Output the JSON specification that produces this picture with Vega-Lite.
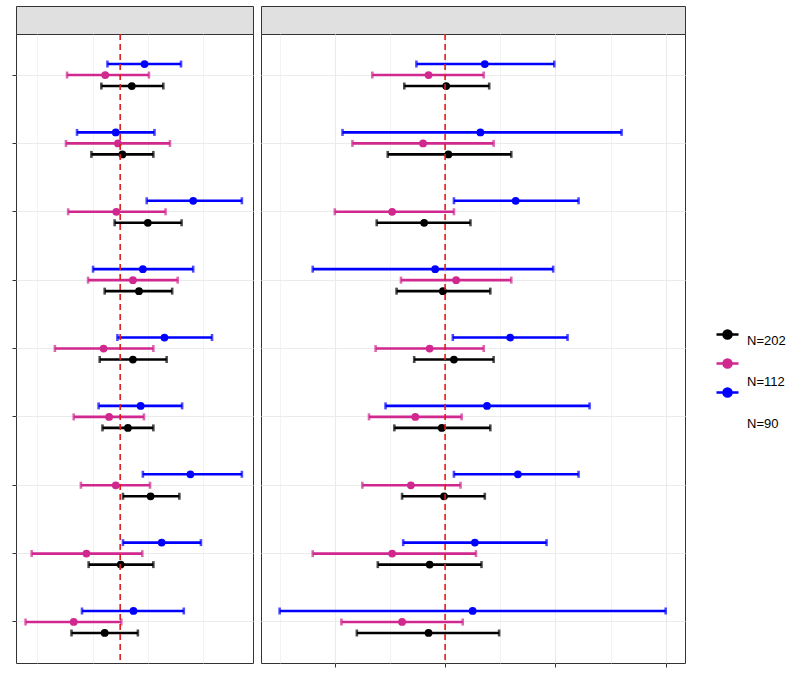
{
  "$schema": "https://vega.github.io/schema/vega-lite/v6.json",
  "padding": {"left": 11, "top": 5, "right": 5, "bottom": 5},
  "background": "white",
  "config": {
    "view": {"stroke": "#333333", "strokeWidth": 1},
    "font": "Liberation Sans"
  },
  "datasets": {
    "est": [
      {"p":"L","row":"r1","grp":"N=90","lo":-0.23,"est":0.44,"hi":1.10},
      {"p":"L","row":"r1","grp":"N=112","lo":-0.96,"est":-0.27,"hi":0.52},
      {"p":"L","row":"r1","grp":"N=202","lo":-0.34,"est":0.21,"hi":0.78},
      {"p":"L","row":"r2","grp":"N=90","lo":-0.78,"est":-0.08,"hi":0.62},
      {"p":"L","row":"r2","grp":"N=112","lo":-0.98,"est":-0.04,"hi":0.90},
      {"p":"L","row":"r2","grp":"N=202","lo":-0.52,"est":0.04,"hi":0.60},
      {"p":"L","row":"r3","grp":"N=90","lo":0.48,"est":1.32,"hi":2.20},
      {"p":"L","row":"r3","grp":"N=112","lo":-0.94,"est":-0.07,"hi":0.82},
      {"p":"L","row":"r3","grp":"N=202","lo":-0.10,"est":0.50,"hi":1.11},
      {"p":"L","row":"r4","grp":"N=90","lo":-0.49,"est":0.41,"hi":1.32},
      {"p":"L","row":"r4","grp":"N=112","lo":-0.58,"est":0.23,"hi":1.04},
      {"p":"L","row":"r4","grp":"N=202","lo":-0.28,"est":0.34,"hi":0.94},
      {"p":"L","row":"r5","grp":"N=90","lo":-0.05,"est":0.80,"hi":1.66},
      {"p":"L","row":"r5","grp":"N=112","lo":-1.18,"est":-0.30,"hi":0.60},
      {"p":"L","row":"r5","grp":"N=202","lo":-0.37,"est":0.23,"hi":0.84},
      {"p":"L","row":"r6","grp":"N=90","lo":-0.39,"est":0.37,"hi":1.12},
      {"p":"L","row":"r6","grp":"N=112","lo":-0.84,"est":-0.20,"hi":0.43},
      {"p":"L","row":"r6","grp":"N=202","lo":-0.32,"est":0.14,"hi":0.60},
      {"p":"L","row":"r7","grp":"N=90","lo":0.41,"est":1.27,"hi":2.20},
      {"p":"L","row":"r7","grp":"N=112","lo":-0.71,"est":-0.08,"hi":0.54},
      {"p":"L","row":"r7","grp":"N=202","lo":0.05,"est":0.55,"hi":1.07},
      {"p":"L","row":"r8","grp":"N=90","lo":0.05,"est":0.75,"hi":1.46},
      {"p":"L","row":"r8","grp":"N=112","lo":-1.60,"est":-0.61,"hi":0.40},
      {"p":"L","row":"r8","grp":"N=202","lo":-0.57,"est":0.01,"hi":0.60},
      {"p":"L","row":"r9","grp":"N=90","lo":-0.69,"est":0.24,"hi":1.15},
      {"p":"L","row":"r9","grp":"N=112","lo":-1.71,"est":-0.84,"hi":0.02},
      {"p":"L","row":"r9","grp":"N=202","lo":-0.88,"est":-0.28,"hi":0.32},
      {"p":"R","row":"r1","grp":"N=90","lo":-0.26,"est":0.36,"hi":0.99},
      {"p":"R","row":"r1","grp":"N=112","lo":-0.66,"est":-0.15,"hi":0.35},
      {"p":"R","row":"r1","grp":"N=202","lo":-0.37,"est":0.01,"hi":0.40},
      {"p":"R","row":"r2","grp":"N=90","lo":-0.93,"est":0.32,"hi":1.60},
      {"p":"R","row":"r2","grp":"N=112","lo":-0.84,"est":-0.20,"hi":0.44},
      {"p":"R","row":"r2","grp":"N=202","lo":-0.52,"est":0.03,"hi":0.60},
      {"p":"R","row":"r3","grp":"N=90","lo":0.08,"est":0.64,"hi":1.21},
      {"p":"R","row":"r3","grp":"N=112","lo":-1.00,"est":-0.48,"hi":0.08},
      {"p":"R","row":"r3","grp":"N=202","lo":-0.62,"est":-0.19,"hi":0.23},
      {"p":"R","row":"r4","grp":"N=90","lo":-1.20,"est":-0.09,"hi":0.98},
      {"p":"R","row":"r4","grp":"N=112","lo":-0.40,"est":0.10,"hi":0.60},
      {"p":"R","row":"r4","grp":"N=202","lo":-0.44,"est":-0.02,"hi":0.41},
      {"p":"R","row":"r5","grp":"N=90","lo":0.07,"est":0.59,"hi":1.11},
      {"p":"R","row":"r5","grp":"N=112","lo":-0.63,"est":-0.14,"hi":0.35},
      {"p":"R","row":"r5","grp":"N=202","lo":-0.28,"est":0.08,"hi":0.44},
      {"p":"R","row":"r6","grp":"N=90","lo":-0.54,"est":0.38,"hi":1.31},
      {"p":"R","row":"r6","grp":"N=112","lo":-0.69,"est":-0.27,"hi":0.15},
      {"p":"R","row":"r6","grp":"N=202","lo":-0.46,"est":-0.03,"hi":0.41},
      {"p":"R","row":"r7","grp":"N=90","lo":0.08,"est":0.66,"hi":1.21},
      {"p":"R","row":"r7","grp":"N=112","lo":-0.75,"est":-0.31,"hi":0.14},
      {"p":"R","row":"r7","grp":"N=202","lo":-0.39,"est":-0.01,"hi":0.36},
      {"p":"R","row":"r8","grp":"N=90","lo":-0.38,"est":0.27,"hi":0.92},
      {"p":"R","row":"r8","grp":"N=112","lo":-1.20,"est":-0.48,"hi":0.28},
      {"p":"R","row":"r8","grp":"N=202","lo":-0.61,"est":-0.14,"hi":0.33},
      {"p":"R","row":"r9","grp":"N=90","lo":-1.50,"est":0.25,"hi":2.00},
      {"p":"R","row":"r9","grp":"N=112","lo":-0.94,"est":-0.39,"hi":0.16},
      {"p":"R","row":"r9","grp":"N=202","lo":-0.80,"est":-0.15,"hi":0.49}
    ]
  },
  "spacing": 6,
  "hconcat": [
    {
      "bounds": "flush",
      "spacing": 0,
      "vconcat": [
        {
          "width": 237, "height": 28,
          "view": {"fill": "#E0E0E0", "stroke": "#333333", "strokeWidth": 1},
          "data": {"values": [{"t": ""}]},
          "mark": {"type": "text"},
          "encoding": {"text": {"field": "t"}}
        },
        {
          "width": 237, "height": 629,
          "layer": [
            {
              "data": {"name": "est"},
              "transform": [{"filter": "datum.p === 'L'"}],
              "encoding": {
                "y": {"field": "row", "type": "nominal", "scale": {"paddingInner": 0, "paddingOuter": 0.1},
                      "axis": {"title": null, "labels": false, "domain": false, "ticks": true, "tickSize": 4, "tickColor": "#333333", "tickWidth": 1, "grid": true, "gridColor": "#EBEBEB", "gridWidth": 1.1, "bandPosition": 0.5}},
                "yOffset": {"field": "grp", "type": "nominal", "sort": ["N=90", "N=112", "N=202"], "scale": {"paddingInner": 0, "paddingOuter": 0, "range": [17.7, 50.7]}},
                "color": {"field": "grp", "type": "nominal",
                          "scale": {"domain": ["N=202", "N=112", "N=90"], "range": ["#000000", "#D0288F", "#0000FF"]},
                          "legend": {"title": null, "orient": "none", "legendX": 699, "legendY": 316,
                                     "symbolType": "M-1,0L1,0M-0.36,0A0.36,0.36 0 1,0 0.36,0A0.36,0.36 0 1,0 -0.36,0Z",
                                     "symbolSize": 484, "symbolStrokeWidth": 2.6, "labelExpr": "''",
                                     "rowPadding": 7, "labelOffset": 0, "padding": 0,
                                     "encode": {"symbols": {"update": {"fill": {"scale": "color", "field": "value"}, "stroke": {"scale": "color", "field": "value"}, "opacity": {"value": 1}}}}}}
              },
              "layer": [
                {
                  "mark": {"type": "rule", "strokeWidth": 2.6},
                  "encoding": {
                    "x": {"field": "lo", "type": "quantitative", "scale": {"domain": [-1.883, 2.401], "nice": false, "zero": false},
                          "axis": {"title": null, "labels": false, "domain": false, "values": [-1.5, -1, -0.5, 0, 0.5, 1, 1.5, 2],
                                   "grid": true, "gridColor": "#EBEBEB",
                                   "gridWidth": {"condition": {"test": "datum.value % 1 === 0", "value": 1.1}, "value": 0.6},
                                   "tickColor": "#333333", "tickSize": 4, "tickWidth": 1,
                                   "tickOpacity": {"condition": {"test": "datum.value % 1 === 0", "value": 1}, "value": 0}}},
                    "x2": {"field": "hi"}
                  }
                },
                {"mark": {"type": "tick", "thickness": 2.6, "size": 7}, "encoding": {"x": {"field": "lo", "type": "quantitative"}}},
                {"mark": {"type": "tick", "thickness": 2.6, "size": 7}, "encoding": {"x": {"field": "hi", "type": "quantitative"}}},
                {"mark": {"type": "point", "filled": true, "size": 60, "opacity": 1},
                 "encoding": {"x": {"field": "est", "type": "quantitative"},
                              "shape": {"field": "grp", "type": "nominal", "sort": ["N=202", "N=112", "N=90"],
                                        "scale": {"range": ["circle", "circle", "circle"]},
                                        "legend": {"title": null, "orient": "none", "legendX": 718, "legendY": 328,
                                                   "symbolSize": 1, "symbolOpacity": 0, "symbolStrokeWidth": 0, "labelOffset": 0,
                                                   "labelFontSize": 13, "labelFont": "Liberation Sans", "labelColor": "#000000",
                                                   "rowPadding": 27.5, "padding": 0}}}}
              ]
            },
            {
              "data": {"values": [{"z": 0}]},
              "mark": {"type": "rule", "color": "#E01B1B", "strokeDash": [6, 4], "strokeWidth": 1.6},
              "encoding": {"x": {"field": "z", "type": "quantitative"}}
            }
          ]
        }
      ]
    },
    {
      "bounds": "flush",
      "spacing": 0,
      "vconcat": [
        {
          "width": 424, "height": 28,
          "view": {"fill": "#E0E0E0", "stroke": "#333333", "strokeWidth": 1},
          "data": {"values": [{"t": ""}]},
          "mark": {"type": "text"},
          "encoding": {"text": {"field": "t"}}
        },
        {
          "width": 424, "height": 629,
          "layer": [
            {
              "data": {"name": "est"},
              "transform": [{"filter": "datum.p === 'R'"}],
              "encoding": {
                "y": {"field": "row", "type": "nominal", "scale": {"paddingInner": 0, "paddingOuter": 0.1},
                      "axis": {"title": null, "labels": false, "domain": false, "ticks": false, "grid": true, "gridColor": "#EBEBEB", "gridWidth": 1.1, "bandPosition": 0.5}},
                "yOffset": {"field": "grp", "type": "nominal", "sort": ["N=90", "N=112", "N=202"], "scale": {"paddingInner": 0, "paddingOuter": 0, "range": [17.7, 50.7]}},
                "color": {"field": "grp", "type": "nominal"}
              },
              "layer": [
                {
                  "mark": {"type": "rule", "strokeWidth": 2.6},
                  "encoding": {
                    "x": {"field": "lo", "type": "quantitative", "scale": {"domain": [-1.669, 2.175], "nice": false, "zero": false},
                          "axis": {"title": null, "labels": false, "domain": false, "values": [-1.5, -1, -0.5, 0, 0.5, 1, 1.5, 2],
                                   "grid": true, "gridColor": "#EBEBEB",
                                   "gridWidth": {"condition": {"test": "datum.value % 1 === 0", "value": 1.1}, "value": 0.6},
                                   "tickColor": "#333333", "tickSize": 4, "tickWidth": 1,
                                   "tickOpacity": {"condition": {"test": "datum.value % 1 === 0", "value": 1}, "value": 0}}},
                    "x2": {"field": "hi"}
                  }
                },
                {"mark": {"type": "tick", "thickness": 2.6, "size": 7}, "encoding": {"x": {"field": "lo", "type": "quantitative"}}},
                {"mark": {"type": "tick", "thickness": 2.6, "size": 7}, "encoding": {"x": {"field": "hi", "type": "quantitative"}}},
                {"mark": {"type": "point", "filled": true, "size": 60, "opacity": 1}, "encoding": {"x": {"field": "est", "type": "quantitative"}}}
              ]
            },
            {
              "data": {"values": [{"z": 0}]},
              "mark": {"type": "rule", "color": "#E01B1B", "strokeDash": [6, 4], "strokeWidth": 1.6},
              "encoding": {"x": {"field": "z", "type": "quantitative"}}
            }
          ]
        }
      ]
    }
  ]
}
